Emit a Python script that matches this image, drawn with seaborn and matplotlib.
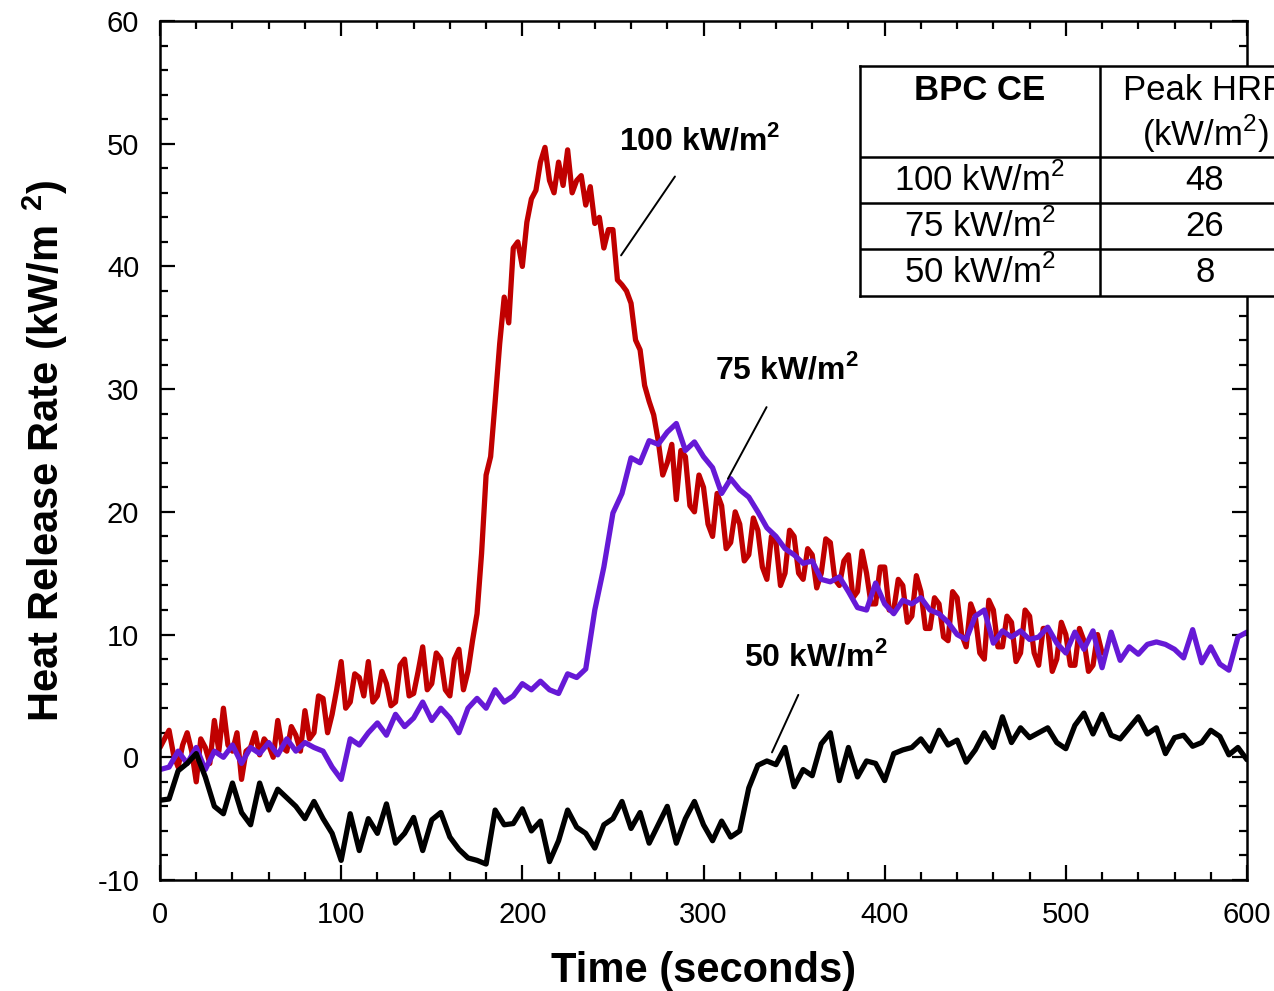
import numpy as np
import pandas as pd
import matplotlib
matplotlib.use("Agg")
import matplotlib.pyplot as plt
import seaborn as sns

# ---------------- data ----------------
t_100 = [i * 2.5 for i in range(0, 209)]   # 0 .. 520 s
hrr_100 = [0.8, 1.5, 2.2, 0.2, -0.8, 1.0, 2.0, 0.5, -2.0, 1.5,
           0.8, -0.5, 3.0, 0.5, 4.0, 1.0, 0.5, 2.0, -1.8, 0.5,
           0.8, 2.0, 0.2, 1.5, 1.0, 0.0, 3.0, 0.8, 0.5, 2.5,
           1.8, 0.5, 3.8, 1.5, 2.0, 5.0, 4.8, 2.0, 3.5, 5.5,
           7.8, 4.0, 4.5, 6.8, 6.5, 5.0, 7.8, 4.5, 5.0, 7.0,
           6.0, 4.2, 4.5, 7.5, 8.0, 5.0, 5.2, 7.0, 9.0, 5.5,
           6.0, 8.5, 8.0, 5.5, 5.0, 8.0, 8.8, 5.5, 7.0, 9.5,
           11.7, 16.6, 23.0, 24.5, 29.0, 33.7, 37.5, 35.4, 41.5, 42.0,
           40.0, 43.6, 45.5, 46.2, 48.5, 49.7, 47.0, 46.0, 48.5, 46.6,
           49.5, 46.0, 47.0, 47.4, 45.0, 46.5, 43.5, 44.0, 41.5, 43.0,
           43.0, 38.9, 38.5, 38.0, 37.0, 34.0, 33.2, 30.3, 29.0, 27.9,
           25.8, 23.0, 24.0, 25.5, 21.0, 25.0, 24.5, 20.5, 20.0, 23.0,
           22.0, 19.0, 18.0, 21.5, 20.5, 17.0, 17.5, 20.0, 19.0, 16.0,
           16.5, 19.5, 18.5, 15.5, 14.5, 18.0, 17.5, 14.0, 15.0, 18.5,
           18.0, 15.0, 14.5, 17.0, 16.5, 13.8, 15.0, 17.8, 17.5, 14.5,
           14.0, 16.0, 16.5, 13.0, 13.5, 16.8, 15.0, 12.5, 12.5, 15.5,
           15.5, 12.0, 12.0, 14.5, 14.0, 11.0, 11.5, 14.8, 13.5, 10.5,
           10.5, 13.0, 12.5, 9.8, 9.5, 13.5, 13.0, 10.0, 9.0, 12.5,
           11.5, 8.5, 8.0, 12.8, 12.0, 9.0, 9.0, 11.5, 11.0, 7.8,
           8.5, 12.0, 11.5, 8.5, 7.5, 10.5, 10.5, 7.0, 8.0, 11.0,
           10.0, 7.5, 7.5, 10.5, 9.5, 7.0, 7.5, 10.0, 8.5]

t_75 = list(range(0, 601, 5))
hrr_75 = [-1.0, -0.8, 0.5, -0.5, 0.8, -1.0, 0.5, 0.0, 1.0, -0.5,
          0.8, 0.3, 1.2, 0.2, 1.5, 0.5, 1.2, 0.8, 0.5, -0.8,
          -1.8, 1.5, 1.0, 2.0, 2.8, 1.8, 3.5, 2.5, 3.2, 4.5,
          3.0, 4.0, 3.2, 2.0, 4.0, 4.8, 4.0, 5.5, 4.5, 5.0,
          6.0, 5.5, 6.2, 5.5, 5.2, 6.8, 6.5, 7.2, 12.0, 15.5,
          19.9, 21.5, 24.4, 24.0, 25.8, 25.5, 26.5, 27.2, 25.0, 25.7,
          24.5, 23.6, 21.5, 22.7, 21.8, 21.2, 20.0, 18.7, 18.0, 17.0,
          16.5, 15.8, 16.0, 14.5, 14.3, 14.7, 13.5, 12.2, 12.0, 14.2,
          12.5, 11.7, 12.8, 12.5, 13.0, 12.0, 11.7, 11.0, 10.0, 9.6,
          11.5, 12.0, 9.3, 10.3, 9.8, 10.3, 9.6, 9.8, 10.6, 9.3,
          8.5, 10.2, 8.8, 10.3, 7.3, 10.2, 7.9, 9.0, 8.4, 9.2,
          9.4, 9.2, 8.8, 8.1, 10.4, 7.7, 9.0, 7.6, 7.1, 9.8,
          10.2]

t_50 = list(range(0, 601, 5))
hrr_50 = [-3.5, -3.4, -1.1, -0.5, 0.3, -1.6, -4.0, -4.6, -2.1, -4.5,
          -5.5, -2.1, -4.3, -2.6, -3.3, -4.0, -5.0, -3.6, -5.0, -6.2,
          -8.4, -4.6, -7.6, -5.0, -6.2, -3.8, -7.0, -6.2, -4.9, -7.6,
          -5.1, -4.5, -6.5, -7.5, -8.2, -8.4, -8.7, -4.3, -5.5, -5.4,
          -4.2, -6.0, -5.2, -8.5, -6.8, -4.3, -5.7, -6.2, -7.4, -5.5,
          -5.0, -3.6, -5.8, -4.5, -7.0, -5.5, -4.0, -7.0, -5.0, -3.6,
          -5.5, -6.8, -5.2, -6.5, -6.0, -2.5, -0.65, -0.3, -0.6, 0.8,
          -2.4, -1.0, -1.5, 1.1, 2.0, -1.9, 0.8, -1.6, -0.3, -0.5,
          -1.9, 0.3, 0.6, 0.8, 1.5, 0.5, 2.2, 1.0, 1.4, -0.4,
          0.6, 2.0, 0.8, 3.3, 1.2, 2.4, 1.6, 2.0, 2.4, 1.2,
          0.7, 2.6, 3.6, 1.9, 3.5, 1.8, 1.5, 2.4, 3.3, 1.9,
          2.4, 0.3, 1.6, 1.8, 0.9, 1.2, 2.2, 1.7, 0.2, 0.8,
          -0.2]

series_names = ["100 kW/m2", "75 kW/m2", "50 kW/m2"]
series_colors = ["#C00000", "#6619D6", "#000000"]

table_rows = ["100 kW/m$^2$", "75 kW/m$^2$", "50 kW/m$^2$"]
table_peaks = ["48", "26", "8"]

x_ticks = [0, 100, 200, 300, 400, 500, 600]
y_ticks = [-10, 0, 10, 20, 30, 40, 50, 60]

# ---------------- figure ----------------
sns.set_theme(style="ticks")
plt.rcParams["font.family"] = ["Liberation Sans", "DejaVu Sans"]
plt.rcParams["mathtext.fontset"] = "custom"
plt.rcParams["mathtext.rm"] = "Liberation Sans"
plt.rcParams["mathtext.bf"] = "Liberation Sans:bold"
plt.rcParams["axes.unicode_minus"] = False
plt.rcParams["text.color"] = "black"
plt.rcParams["axes.labelcolor"] = "black"
plt.rcParams["xtick.color"] = "black"
plt.rcParams["ytick.color"] = "black"

W, H = 1274, 991
fig = plt.figure(figsize=(W / 100, H / 100), dpi=100)
ax = fig.add_axes([160 / W, (H - 880) / H, (1247 - 160) / W, (880 - 21) / H])

df = pd.concat([
    pd.DataFrame({"t": t_100, "hrr": hrr_100, "series": series_names[0]}),
    pd.DataFrame({"t": t_75, "hrr": hrr_75, "series": series_names[1]}),
    pd.DataFrame({"t": t_50, "hrr": hrr_50, "series": series_names[2]}),
])

for name, col in zip(series_names, series_colors):
    sub = df[df["series"] == name]
    sns.lineplot(data=sub, x="t", y="hrr", color=col, lw=3.8, ax=ax,
                 estimator=None, sort=False, legend=False)

ax.set_xlim(0, 600)
ax.set_ylim(-10, 60)
ax.set_xticks(x_ticks)
ax.set_yticks(y_ticks)
ax.set_xticks(np.arange(0, 601, 20), minor=True)
ax.set_yticks(np.arange(-10, 61, 2), minor=True)
ax.tick_params(which="both", direction="in", top=True, right=True,
               width=1.6, colors="black", labelsize=21, pad=15)
ax.tick_params(which="major", length=11)
ax.tick_params(which="minor", length=5.5)
for s in ax.spines.values():
    s.set_linewidth(1.8)
    s.set_color("black")

ax.set_xlabel("Time (seconds)", fontsize=30, fontweight="bold", labelpad=16)
ax.set_ylabel(r"Heat Release Rate (kW/m$\ ^\mathbf{2}$)", fontsize=30,
              fontweight="bold", labelpad=20)

# annotations
ann_kw = dict(fontsize=23, fontweight="bold", ha="center", va="center")
ax.annotate(r"100 kW/m$^\mathbf{2}$", xy=(254.5, 40.9), xytext=(298, 50.3),
            arrowprops=dict(arrowstyle="-", color="black", lw=1.4,
                            shrinkA=15, shrinkB=0), **ann_kw)
ax.annotate(r"75 kW/m$^\mathbf{2}$", xy=(313.5, 22.7), xytext=(346, 31.6),
            arrowprops=dict(arrowstyle="-", color="black", lw=1.4,
                            shrinkA=15, shrinkB=0), **ann_kw)
ax.annotate(r"50 kW/m$^\mathbf{2}$", xy=(337.8, 0.4), xytext=(362, 8.2),
            arrowprops=dict(arrowstyle="-", color="black", lw=1.4,
                            shrinkA=15, shrinkB=0), **ann_kw)

# ---------------- table ----------------
tx0, tx1 = 860, 1310
ty0, ty1 = 66, 296
tax = fig.add_axes([tx0 / W, (H - ty1) / H, (tx1 - tx0) / W, (ty1 - ty0) / H])
tax.set_xlim(tx0, tx1)
tax.set_ylim(ty1, ty0)
tax.set_facecolor("white")
tax.set_xticks([])
tax.set_yticks([])
for s in tax.spines.values():
    s.set_linewidth(1.8)
    s.set_color("black")
col_split = 1100
row_lines = [157, 203, 249]
tax.plot([col_split, col_split], [ty0, ty1], color="black", lw=1.8)
for yl in row_lines:
    tax.plot([tx0, tx1], [yl, yl], color="black", lw=1.8)

c1 = (tx0 + col_split) / 2
c2 = (col_split + tx1) / 2
tfs = 25
tax.text(c1, 91, "BPC CE", fontsize=tfs, fontweight="bold", ha="center", va="center")
tax.text(c2, 91, "Peak HRR", fontsize=tfs, ha="center", va="center")
tax.text(c2, 134, "(kW/m$^2$)", fontsize=tfs, ha="center", va="center")
row_centers = [180, 226, 272]
for yc, lab, pk in zip(row_centers, table_rows, table_peaks):
    tax.text(c1, yc, lab, fontsize=tfs, ha="center", va="center")
    tax.text(c2, yc, pk, fontsize=tfs, ha="center", va="center")

fig.savefig("out.png", dpi=100)
